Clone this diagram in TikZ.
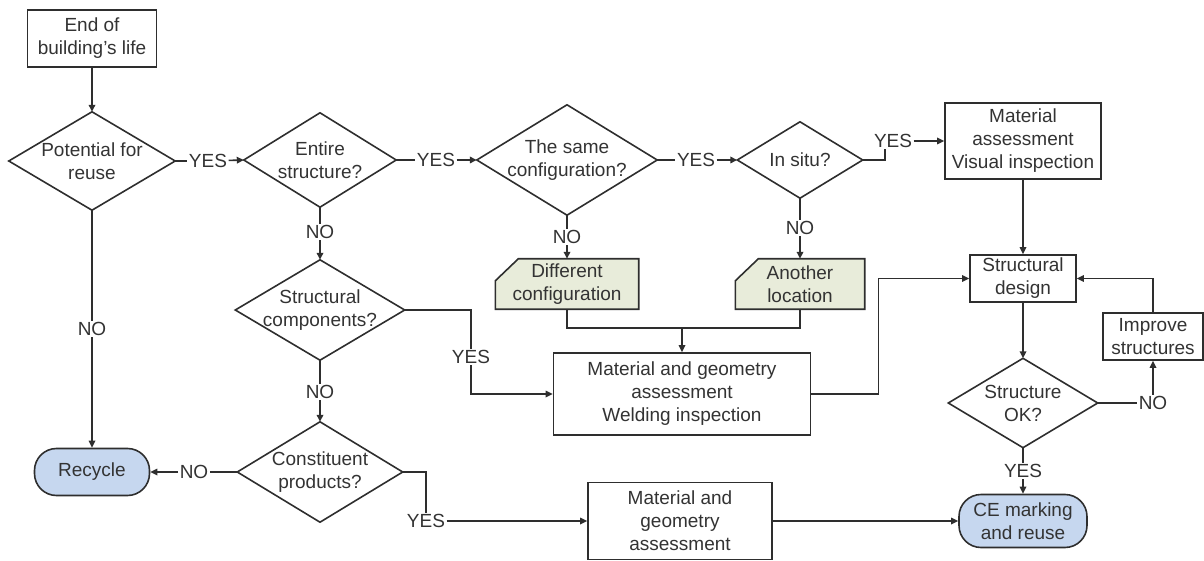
\documentclass[tikz,border=0pt]{standalone}
\usepackage{fontspec}
\setmainfont{Liberation Sans}
\usetikzlibrary{arrows.meta,backgrounds}
\definecolor{ink}{HTML}{2E2E2E}
\definecolor{txt}{HTML}{333333}
\definecolor{sage}{HTML}{E8ECDA}
\definecolor{sky}{HTML}{C6D7EF}
\begin{document}
\begin{tikzpicture}[x=1pt,y=-1pt,
  every node/.style={font=\fontsize{19}{23}\selectfont, text=txt, align=center, inner sep=0pt},
  conn/.style={draw=ink, line width=1.6pt},
  arr/.style={conn, -{Triangle[length=7pt,width=6.5pt]}},
  box/.style 2 args={rectangle, draw=ink, line width=1.6pt, fill=white, minimum width=#1, minimum height=#2},
  term/.style 2 args={box={#1}{#2}, fill=sky, rounded corners=22pt},
  decision/.style 2 args={rectangle, minimum width=#1, minimum height=#2},
  flag/.style 2 args={rectangle, minimum width=#1, minimum height=#2},
  lab/.style={inner sep=1.5pt}]
\useasboundingbox (0,0) rectangle (1204,561);

% process boxes and terminals
\node[box={129pt}{57pt}] (start) at (92,38.5) {End of\\building’s life};
\node[box={156pt}{76pt}] (visual) at (1023,141) {Material\\assessment\\Visual inspection};
\node[box={257pt}{82pt}] (weld) at (682,394) {Material and geometry\\assessment\\Welding inspection};
\node[box={106pt}{47pt}] (design) at (1023,278.5) {Structural\\design};
\node[box={100pt}{47pt}] (improve) at (1153,336.5) {Improve\\structures};
\node[box={184pt}{77pt}] (geom) at (680,521) {Material and\\geometry\\assessment};
\node[term={115pt}{47pt}] (recycle) at (92,472) {Recycle};
\node[term={128pt}{53pt}] (reuse) at (1023,521) {CE marking\\and reuse};

% chamfered boxes
\node[flag={143pt}{50pt}] (diffc) at (567,284) {Different\\configuration};
\node[flag={129pt}{50pt}] (anotl) at (800,284) {Another\\location};
\begin{scope}[on background layer]
  \foreach \n in {diffc,anotl}
    \draw[conn, fill=sage] ([yshift=-22pt]\n.north west) -- ([xshift=23pt]\n.north west)
      -- (\n.north east) -- (\n.south east) -- (\n.south west) -- cycle;
\end{scope}

% decisions
\node[decision={166pt}{98pt}] (d1) at (92,161) {Potential for\\reuse};
\node[decision={152pt}{94pt}] (d2) at (320,160) {Entire\\structure?};
\node[decision={180pt}{110pt}] (d3) at (567,160) {The same\\configuration?};
\node[decision={125pt}{76pt}] (d4) at (800,160) {In situ?};
\node[decision={169pt}{100pt}] (d5) at (320,310) {Structural\\components?};
\node[decision={165pt}{100pt}] (d6) at (320,472) {Constituent\\products?};
\node[decision={149pt}{89pt}] (ok) at (1023,403) {Structure\\OK?};
\foreach \n in {d1,d2,d3,d4,d5,d6,ok}
  \draw[conn, line join=miter] (\n.north) -- (\n.east) -- (\n.south) -- (\n.west) -- cycle;

% branch labels
\node[lab] (y1) at (208,161) {YES};
\node[lab] (y2) at (436,160) {YES};
\node[lab] (y3) at (696,160) {YES};
\node[lab] (y4) at (893,141) {YES};
\node[lab] (y5) at (471,357) {YES};
\node[lab] (y6) at (426,521) {YES};
\node[lab] (yok) at (1023,471) {YES};
\node[lab] (n1) at (92,329) {NO};
\node[lab] (n2) at (320,232) {NO};
\node[lab] (n3) at (567,237) {NO};
\node[lab] (n4) at (800,228) {NO};
\node[lab] (n5) at (320,392) {NO};
\node[lab] (n6) at (194,472) {NO};
\node[lab] (nok) at (1153,403) {NO};

% connectors
\draw[arr] (start) -- (d1.north);
\draw[conn] (d1.east) -- (y1);  \draw[arr] (y1) -- (d2.west);
\draw[conn] (d2.east) -- (y2);  \draw[arr] (y2) -- (d3.west);
\draw[conn] (d3.east) -- (y3);  \draw[arr] (y3) -- (d4.west);
\draw[conn] (d4.east) -| ([xshift=-8pt]y4.south);
\draw[arr] (y4.east) -- (visual.west);
\draw[arr] (visual) -- (design);

\draw[conn] (d3.south) -- (n3);  \draw[arr] (n3) -- (diffc.north);
\draw[conn] (d4.south) -- (n4);  \draw[arr] (n4) -- (anotl.north);
\coordinate (join) at (682,328);
\draw[conn] (diffc.south) |- (join);
\draw[conn] (anotl.south) |- (join);
\draw[arr] (join) -- (weld.north);

\draw[conn] (d1.south) -- (n1);  \draw[arr] (n1) -- (recycle.north);
\draw[conn] (d2.south) -- (n2);  \draw[arr] (n2) -- (d5.north);
\draw[conn] (d5.south) -- (n5);  \draw[arr] (n5) -- (d6.north);
\draw[conn] (d6.west) -- (n6);   \draw[arr] (n6) -- (recycle.east);

\draw[conn] (d5.east) -| (y5.north);
\draw[arr] (y5.south) |- (weld.west);
\draw[conn] (d6.east) -| (y6.north);
\draw[arr] (y6.east) -- (geom.west);

\draw[arr] (weld.east) -- ++(67,0) |- (design.west);
\draw[arr] (design) -- (ok.north);
\draw[conn] (ok.east) -- (nok);  \draw[arr] (nok) -- (improve.south);
\draw[arr] (improve.north) |- (design.east);
\draw[conn] (ok.south) -- (yok); \draw[arr] (yok) -- (reuse.north);
\draw[arr] (geom.east) -- (reuse.west);
\end{tikzpicture}
\end{document}
